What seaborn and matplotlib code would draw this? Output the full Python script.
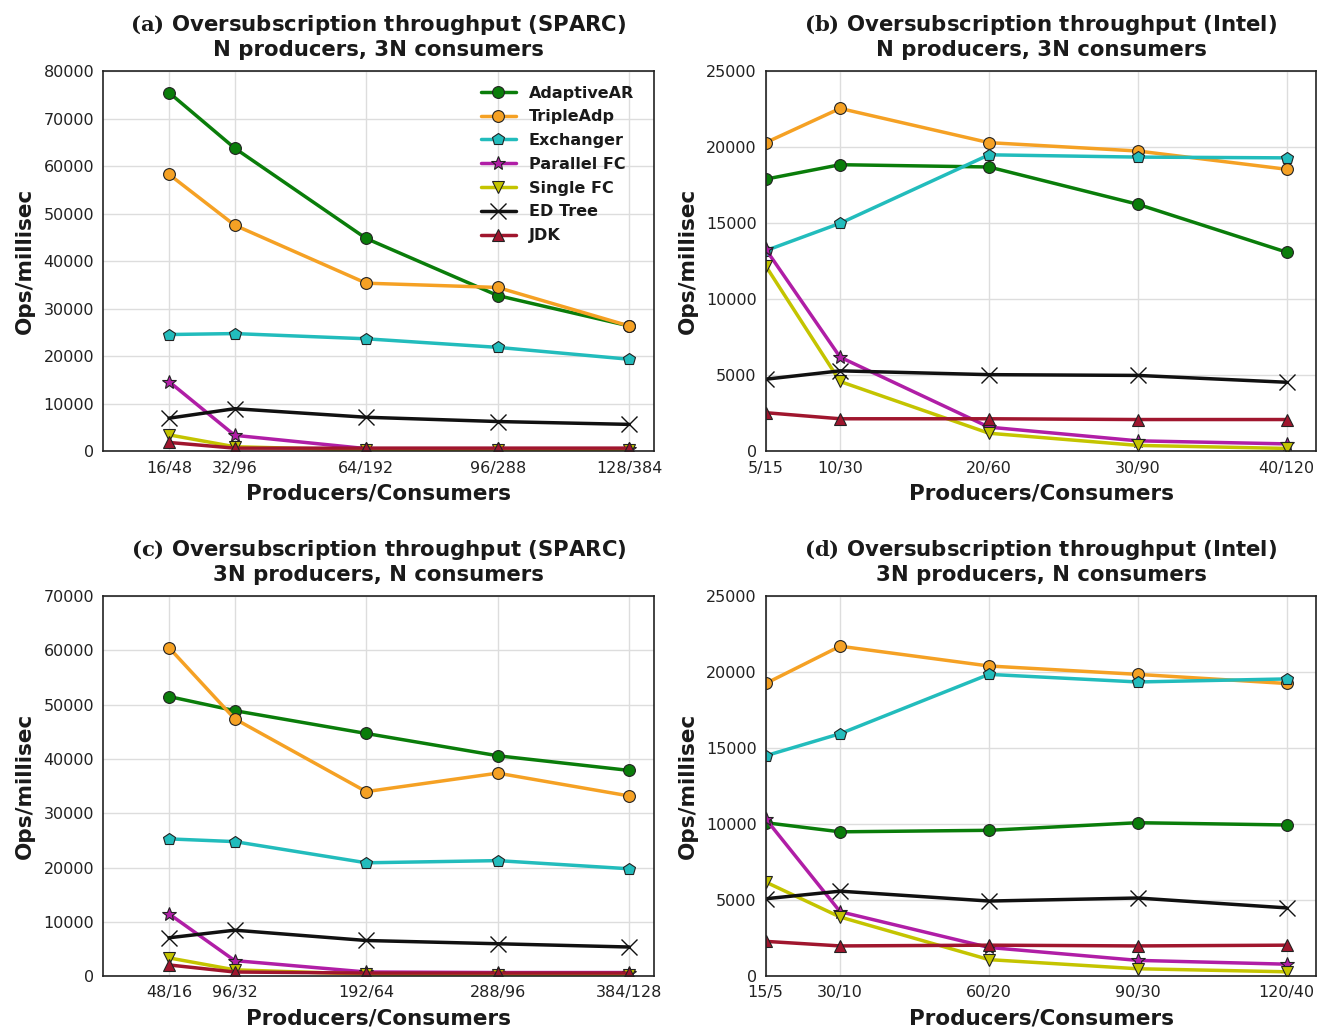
import numpy as np
import pandas as pd
import matplotlib
matplotlib.use("Agg")
import matplotlib.pyplot as plt
import seaborn as sns

# ---- data -------------------------------------------------------------
series_names = ["AdaptiveAR", "TripleAdp", "Exchanger", "Parallel FC",
                "Single FC", "ED Tree", "JDK"]

# x positions (N) and tick labels
x_sparc = [16, 32, 64, 96, 128]
x_intel = [5, 10, 20, 30, 40]
ticks_a = ["16/48", "32/96", "64/192", "96/288", "128/384"]
ticks_b = ["5/15", "10/30", "20/60", "30/90", "40/120"]
ticks_c = ["48/16", "96/32", "192/64", "288/96", "384/128"]
ticks_d = ["15/5", "30/10", "60/20", "90/30", "120/40"]

# (a) SPARC, N producers / 3N consumers
a_adaptive = [75500, 63800, 44800, 32800, 26400]
a_triple = [58300, 47600, 35400, 34500, 26400]
a_exchanger = [24600, 24800, 23700, 21900, 19400]
a_parallel = [14700, 3400, 600, 600, 600]
a_single = [3500, 1000, 300, 300, 300]
a_edtree = [7000, 9000, 7200, 6300, 5700]
a_jdk = [1900, 700, 700, 700, 700]

# (b) Intel, N producers / 3N consumers
b_adaptive = [17900, 18850, 18700, 16250, 13100]
b_triple = [20300, 22550, 20300, 19750, 18550]
b_exchanger = [13200, 15000, 19500, 19350, 19300]
b_parallel = [13300, 6200, 1600, 700, 500]
b_single = [12200, 4600, 1200, 400, 200]
b_edtree = [4750, 5300, 5050, 5000, 4550]
b_jdk = [2550, 2150, 2150, 2100, 2100]

# (c) SPARC, 3N producers / N consumers
c_adaptive = [51500, 48900, 44700, 40600, 37900]
c_triple = [60500, 47400, 34000, 37400, 33200]
c_exchanger = [25300, 24800, 20900, 21300, 19800]
c_parallel = [11500, 2900, 800, 700, 700]
c_single = [3400, 1200, 400, 300, 300]
c_edtree = [7100, 8500, 6600, 6000, 5400]
c_jdk = [2100, 800, 600, 600, 600]

# (d) Intel, 3N producers / N consumers
d_adaptive = [10100, 9500, 9600, 10100, 9950]
d_triple = [19250, 21700, 20400, 19850, 19250]
d_exchanger = [14500, 15950, 19850, 19350, 19550]
d_parallel = [10350, 4250, 1900, 1050, 800]
d_single = [6200, 3900, 1100, 500, 300]
d_edtree = [5100, 5600, 4950, 5150, 4500]
d_jdk = [2300, 2000, 2050, 2000, 2050]

# ---- styling ----------------------------------------------------------
colors = ["#0a7d0a", "#f5a124", "#22bcbc", "#b01ea6", "#c4c400", "#111111", "#a0162e"]
markers = ["o", "o", "p", "*", "v", "x", "^"]
msizes = [8.5, 8.5, 9, 10, 9, 11, 9]

sns.set_style("whitegrid")
plt.rcParams["font.family"] = ["DejaVu Sans"]
plt.rcParams["mathtext.fontset"] = "dejavuserif"

fig, axes = plt.subplots(2, 2, figsize=(13.23, 10.31), dpi=100)
fig.subplots_adjust(left=0.078, right=0.995, top=0.931, bottom=0.053,
                    wspace=0.203, hspace=0.38)

panels = [
    (axes[0, 0], x_sparc, ticks_a,
     [a_adaptive, a_triple, a_exchanger, a_parallel, a_single, a_edtree, a_jdk],
     r"$\mathbf{(a)}$ Oversubscription throughput (SPARC)" + "\nN producers, 3N consumers",
     80000, 10000, (0, 134)),
    (axes[0, 1], x_intel, ticks_b,
     [b_adaptive, b_triple, b_exchanger, b_parallel, b_single, b_edtree, b_jdk],
     r"$\mathbf{(b)}$ Oversubscription throughput (Intel)" + "\nN producers, 3N consumers",
     25000, 5000, (5, 42)),
    (axes[1, 0], x_sparc, ticks_c,
     [c_adaptive, c_triple, c_exchanger, c_parallel, c_single, c_edtree, c_jdk],
     r"$\mathbf{(c)}$ Oversubscription throughput (SPARC)" + "\n3N producers, N consumers",
     70000, 10000, (0, 134)),
    (axes[1, 1], x_intel, ticks_d,
     [d_adaptive, d_triple, d_exchanger, d_parallel, d_single, d_edtree, d_jdk],
     r"$\mathbf{(d)}$ Oversubscription throughput (Intel)" + "\n3N producers, N consumers",
     25000, 5000, (5, 42)),
]

for ax, xs, xt, ys, title, ytop, ystep, xlim in panels:
    for name, y, c, m, ms in zip(series_names, ys, colors, markers, msizes):
        df = pd.DataFrame({"x": xs, "y": y})
        sns.lineplot(data=df, x="x", y="y", ax=ax, color=c, marker=m,
                     markersize=ms, linewidth=2.5, label=name,
                     markeredgecolor="#222222" if m != "x" else c,
                     markeredgewidth=0.8 if m != "x" else 1.0, legend=False)
    ax.set_xlim(*xlim)
    ax.set_ylim(0, ytop)
    ax.set_yticks(np.arange(0, ytop + 1, ystep))
    ax.set_xticks(xs)
    ax.set_xticklabels(xt)
    ax.tick_params(labelsize=11.5, pad=3, colors="#222222")
    ax.set_xlabel("Producers/Consumers", fontsize=15.5, fontweight="bold",
                  color="#1a1a1a", labelpad=6)
    ax.set_ylabel("Ops/millisec", fontsize=15.5, fontweight="bold",
                  color="#1a1a1a", labelpad=6)
    ax.set_title(title, fontsize=15.3, fontweight="bold", color="#1a1a1a",
                 linespacing=1.2, pad=11)
    ax.grid(True, color="#dddddd", linewidth=1.0)
    for sp in ax.spines.values():
        sp.set_color("#222222")
        sp.set_linewidth(1.2)

leg = axes[0, 0].legend(loc="upper right", frameon=False,
                        prop={"weight": "bold", "size": 11.5},
                        handlelength=2.2, labelspacing=0.55,
                        bbox_to_anchor=(0.99, 1.0))
for t in leg.get_texts():
    t.set_color("#1a1a1a")

fig.savefig("out.png", dpi=100)
